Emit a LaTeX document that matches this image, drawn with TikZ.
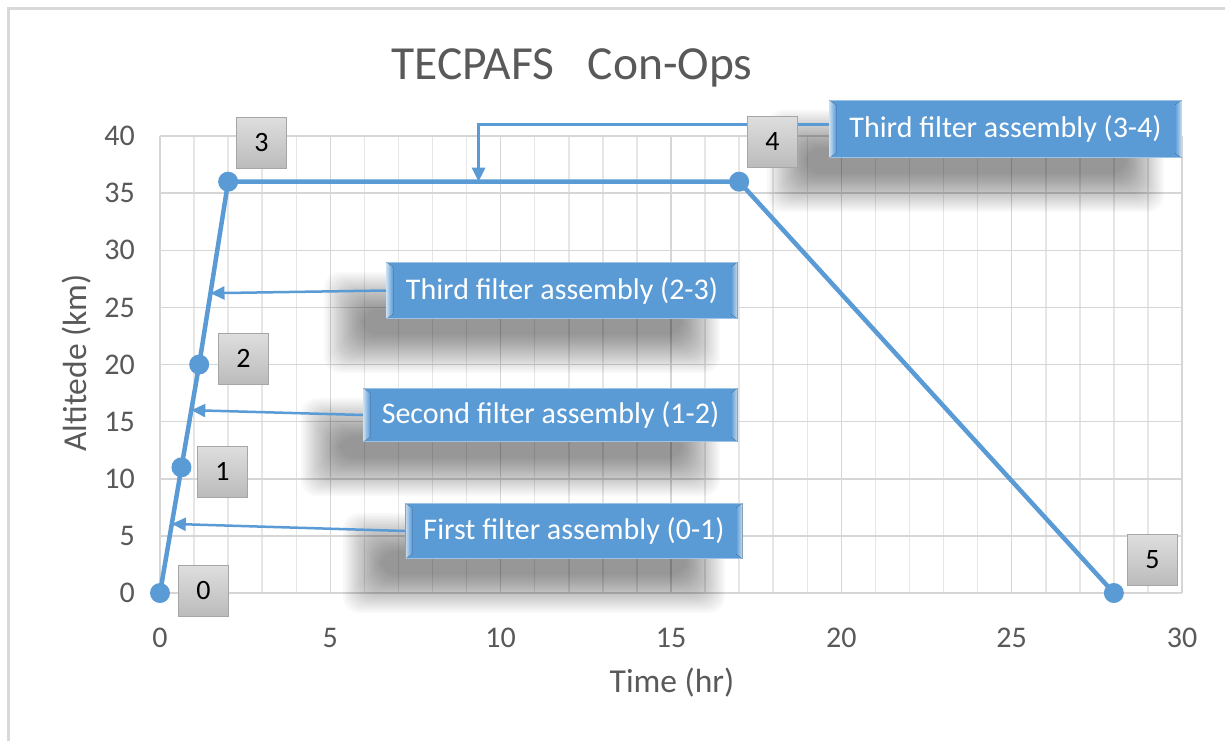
\documentclass[tikz,border=0pt]{standalone}
\usepackage{fontspec}
\setmainfont{Carlito}
\usetikzlibrary{arrows.meta,calc}

\definecolor{lineblue}{HTML}{5B9BD5}
\definecolor{bevelblue}{HTML}{C5DCF0}
\definecolor{edgeblue}{HTML}{9DC3E6}
\definecolor{gridmajor}{HTML}{D6D6D6}
\definecolor{gridminor}{HTML}{E6E6E6}
\definecolor{axistext}{HTML}{595959}
\definecolor{framegray}{HTML}{D9D9D9}
\definecolor{tagtop}{HTML}{DEDEDE}
\definecolor{tagbottom}{HTML}{BBBBBB}
\definecolor{tagedge}{HTML}{A6A6A6}

\pgfdeclarelayer{backdrop}
\pgfdeclarelayer{shade}
\pgfsetlayers{backdrop,shade,main}

\tikzset{
  phase/.style={draw=edgeblue, line width=1pt, fill=lineblue, text=white,
    font=\fontsize{30}{34}\selectfont, inner sep=0pt, anchor=north west},
  tag/.style={draw=tagedge, line width=0.8pt, top color=tagtop, bottom color=tagbottom,
    minimum width=50pt, minimum height=51pt, inner sep=0pt,
    font=\fontsize{28}{32}\selectfont, anchor=north west},
  pointer/.style={draw=lineblue, line width=2.5pt, -{Triangle[length=14pt,width=13pt]}},
  flight/.style={draw=lineblue, line width=4.5pt, line join=round},
  marker/.style={circle, fill=lineblue, inner sep=0pt, minimum size=20pt},
  ticklabel/.style={text=axistext, font=\fontsize{30}{34}\selectfont, inner sep=0pt},
  axistitle/.style={text=axistext, font=\fontsize{33.5}{38}\selectfont, inner sep=0pt},
  minorgrid/.style={draw=gridminor, line width=1.5pt},
  majorgrid/.style={draw=gridmajor, line width=1.5pt},
  softshade/.style={fill=black, fill opacity=0.025, rounded corners=16pt},
}

\begin{document}
\begin{tikzpicture}[x=1pt, y=-1pt]
  \useasboundingbox (0,0) rectangle (1225,740);
  \begin{pgfonlayer}{backdrop}
    % canvas and chart frame
    \fill[white] (0,0) rectangle (1225,740);
    \draw[framegray, line width=3pt] (8.5,760) -- (8.5,8.5) -- (1250,8.5);
  \end{pgfonlayer}

  % title
  \node[text=axistext, font=\fontsize{47.5}{54}\selectfont, inner sep=0pt] (title)
    at (572,68) {TECPAFS\hspace{34pt}Con-Ops};

  % plot area: time (hr) along x, altitude (km) along y
  \begin{scope}[shift={(160,593)}, x=34.067pt, y=11.425pt]
    \begin{pgfonlayer}{backdrop}
      \foreach \t in {0,...,30} \draw[minorgrid] (\t,0) -- (\t,40);
      \foreach \t in {0,5,...,30} \draw[majorgrid] (\t,0) -- (\t,40);
      \foreach \a in {0,5,...,40} \draw[majorgrid] (0,\a) -- (30,\a);
    \end{pgfonlayer}

    \foreach \a in {0,5,...,40}
      \node[ticklabel, anchor=east] (ylab\a) at ([xshift=-25pt]0,\a) {\a};
    \foreach \t in {0,5,...,30}
      \node[ticklabel] (xlab\t) at ([yshift=-45pt]\t,0) {\t};

    \coordinate (p0) at (0,0);
    \coordinate (p1) at (0.63,11);
    \coordinate (p2) at (1.15,20);
    \coordinate (p3) at (2,36);
    \coordinate (p4) at (17,36);
    \coordinate (p5) at (28,0);
  \end{scope}

  \node[axistitle, rotate=90] (ytitle) at (77,363) {Altitede (km)};
  \node[axistitle] (xtitle) at (672,683) {Time (hr)};

  % flight profile
  \draw[flight] (p0) -- (p1) -- (p2) -- (p3) -- (p4) -- (p5);
  \foreach \p in {p0,p1,p2,p3,p4,p5} \node[marker] (m\p) at (\p) {};

  % points the phase callouts refer to
  \coordinate (t01) at ($(p0)!0.55!(p1)$);
  \coordinate (t12) at ($(p1)!0.556!(p2)$);
  \coordinate (t23) at ($(p2)!0.39!(p3)$);
  \coordinate (t34) at ($(p3)!0.49!(p4)$);

  % phase callouts
  \node[phase, minimum width=337pt, minimum height=55pt] (b01) at (405,503) {First filter assembly (0-1)};
  \node[phase, minimum width=374pt, minimum height=53pt] (b12) at (363,388) {Second filter assembly (1-2)};
  \node[phase, minimum width=351pt, minimum height=56pt] (b23) at (386,262) {Third filter assembly (2-3)};
  \node[phase, minimum width=352pt, minimum height=57pt] (b34) at (829,100) {Third filter assembly (3-4)};

  % soft drop shadows, offset down and to the left
  \begin{pgfonlayer}{shade}
    \foreach \n in {b01,b12,b23,b34} {
      \foreach \k in {0,...,19} {
        \pgfmathsetmacro{\d}{-22+2*\k}
        \fill[softshade]
          ([shift={(-40pt+\d pt,-32pt-\d pt)}]\n.north west)
          rectangle ([shift={(-40pt-\d pt,-32pt+\d pt)}]\n.south east);
      }
    }
  \end{pgfonlayer}

  % bevelled side edges of the callouts
  \foreach \n in {b01,b12,b23,b34} {
    \fill[left color=bevelblue, right color=lineblue]
      ([shift={(0.5pt,-0.5pt)}]\n.north west) -- ([shift={(7pt,-5pt)}]\n.north west)
      -- ([shift={(7pt,5pt)}]\n.south west) -- ([shift={(0.5pt,0.5pt)}]\n.south west) -- cycle;
    \fill[left color=lineblue, right color=bevelblue]
      ([shift={(-0.5pt,-0.5pt)}]\n.north east) -- ([shift={(-7pt,-5pt)}]\n.north east)
      -- ([shift={(-7pt,5pt)}]\n.south east) -- ([shift={(-0.5pt,0.5pt)}]\n.south east) -- cycle;
  }

  % callout pointers
  \draw[pointer] (b01.west) -- (t01);
  \draw[pointer] (b12.west) -- (t12);
  \draw[pointer] (b23.west) -- (t23);
  \draw[pointer] ([yshift=4.5pt]b34.west) -| (t34);

  % point number tags
  \node[tag] (n0) at (178,565) {0};
  \node[tag] (n1) at (197,446) {1};
  \node[tag] (n2) at (218,333) {2};
  \node[tag] (n3) at (236,117) {3};
  \node[tag] (n4) at (747,116) {4};
  \node[tag] (n5) at (1127,534) {5};
\end{tikzpicture}
\end{document}
